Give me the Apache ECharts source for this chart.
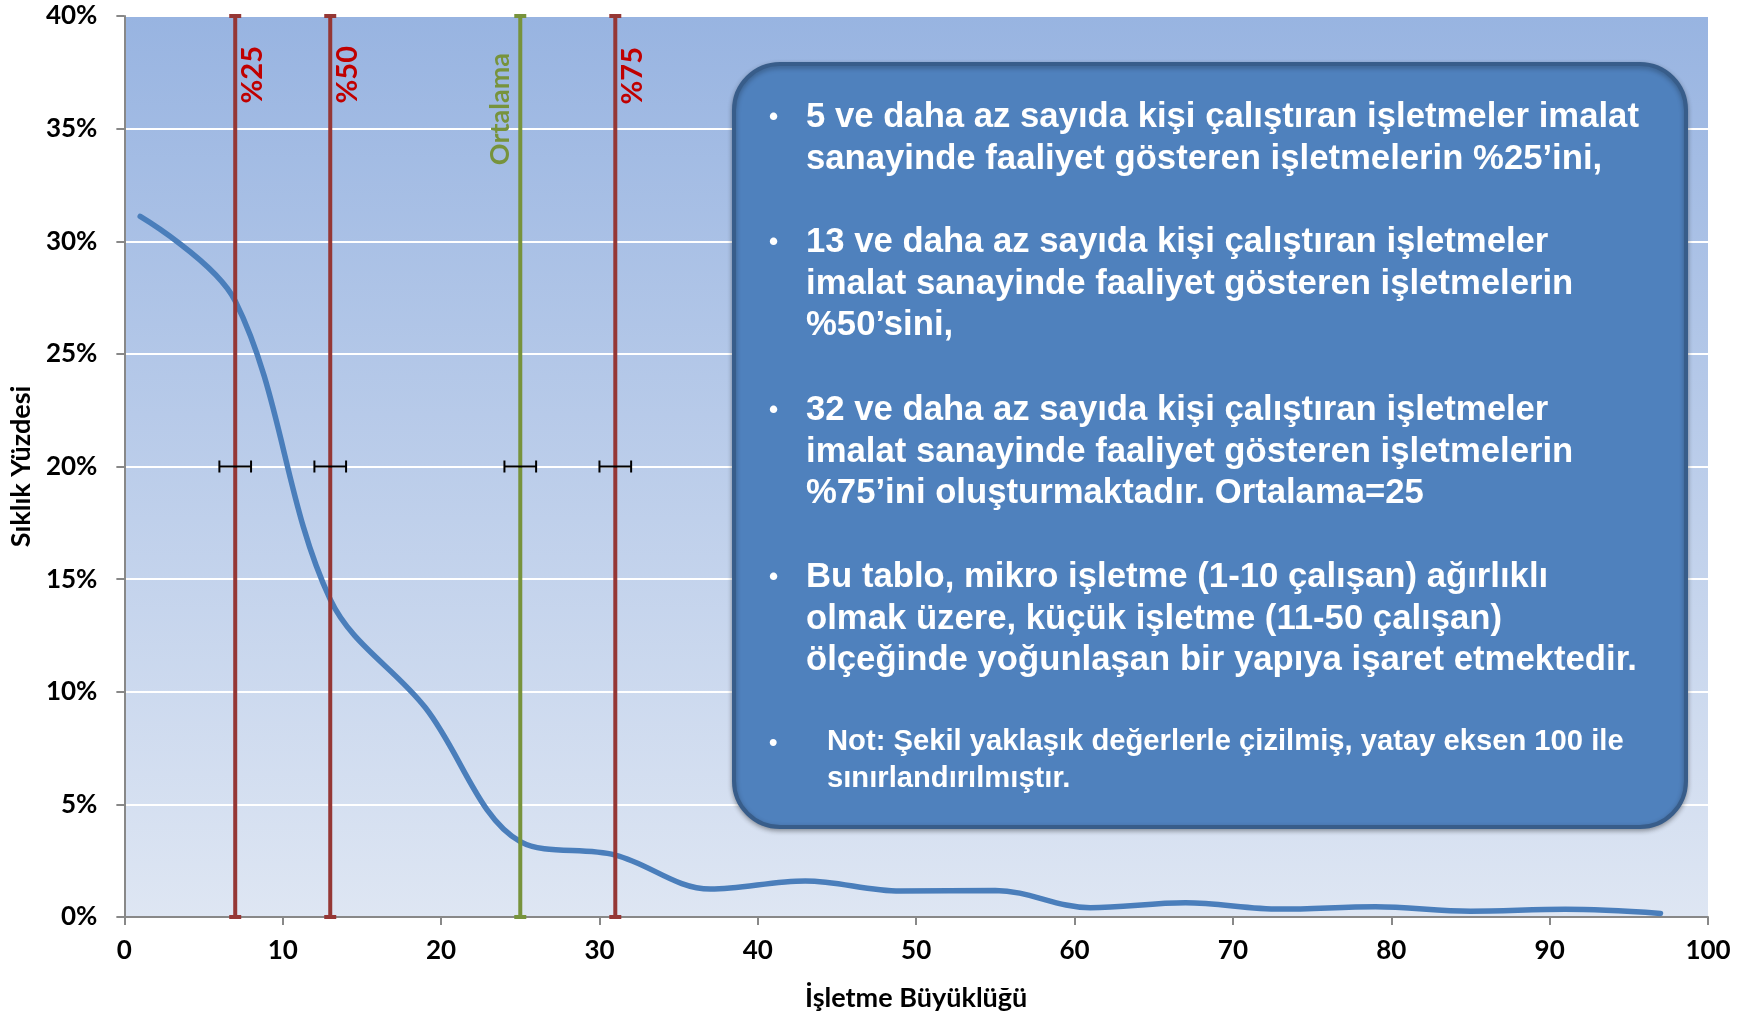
<!DOCTYPE html>
<html>
<head>
<meta charset="utf-8">
<script src="https://cdn.jsdelivr.net/npm/echarts@6/dist/echarts.min.js"></script>
<style>
  html, body { margin: 0; padding: 0; background: #ffffff; }
  #chart { width: 1750px; height: 1017px; }
</style>
</head>
<body>
<div id="chart"></div>
<script>
// işletme büyüklüğü (çalışan sayısı) ve sıklık yüzdesi
var sizes = [1, 7, 13, 19, 25, 31, 37, 43, 49, 55, 61, 67, 73, 79, 85, 91, 97]
var freqs = [31.1, 27.35, 14.1, 9.3, 3.35, 2.75, 1.24, 1.6, 1.15, 1.18, 0.41, 0.63, 0.35, 0.46, 0.26, 0.34, 0.16]

// dikey çizgiler (çeyrekler ve ortalama)
var markX = [7, 13, 25, 31]
var markNames = ['%25', '%50', 'Ortalama', '%75']
var errY = 20
var errHalf = 1

var yTicks = [0, 5, 10, 15, 20, 25, 30, 35, 40]

var notes = [
  ['5 ve daha az sayıda kişi çalıştıran işletmeler imalat', 'sanayinde faaliyet gösteren işletmelerin %25’ini,'],
  ['13 ve daha az sayıda kişi çalıştıran işletmeler', 'imalat sanayinde faaliyet gösteren işletmelerin', '%50’sini,'],
  ['32 ve daha az sayıda kişi çalıştıran işletmeler', 'imalat sanayinde faaliyet gösteren işletmelerin', '%75’ini oluşturmaktadır. Ortalama=25'],
  ['Bu tablo, mikro işletme (1-10 çalışan) ağırlıklı', 'olmak üzere, küçük işletme (11-50 çalışan)', 'ölçeğinde yoğunlaşan bir yapıya işaret etmektedir.']
]
var footNote = ['Not: Şekil yaklaşık değerlerle çizilmiş, yatay eksen 100 ile', 'sınırlandırılmıştır.']

var myChart = echarts.init(document.getElementById('chart'))

var curveData = sizes.map(function (x, i) { return [x, freqs[i]] })

// renk ve konum ayarları
var lineColors = ['#953735', '#953735', '#77933C', '#953735']
var textColors = ['#C00000', '#C00000', '#77933C', '#C00000']
var labelDx = [17, 17, -20, 17]
var labelDy = [30, 30, 37, 31]
var axisFont = 'Lato, "Noto Sans", sans-serif'
var boxFont = '"Liberation Sans", Arial, sans-serif'

// kutu içi metinler
var boxTexts = []
var paraTops = [97, 222, 390, 557]
notes.forEach(function (lines, i) {
  boxTexts.push({
    type: 'text', x: 769, y: paraTops[i] + 21, z: 101,
    style: { text: '•', fill: '#fff', font: 'bold 26px ' + boxFont, textVerticalAlign: 'middle' }
  })
  boxTexts.push({
    type: 'text', x: 806, y: paraTops[i], z: 101,
    style: { text: lines.join('\n'), fill: '#fff', font: 'bold 34.7px ' + boxFont, lineHeight: 41.5, textVerticalAlign: 'top' }
  })
})
boxTexts.push({
  type: 'text', x: 769, y: 743, z: 101,
  style: { text: '•', fill: '#fff', font: 'bold 24px ' + boxFont, textVerticalAlign: 'middle' }
})
boxTexts.push({
  type: 'text', x: 827, y: 724, z: 101,
  style: { text: footNote.join('\n'), fill: '#fff', font: 'bold 29.2px ' + boxFont, lineHeight: 36.5, textVerticalAlign: 'top' }
})

var option = {
  animation: false,
  backgroundColor: '#ffffff',
  grid: {
    left: 123,
    right: 42,
    top: 16,
    bottom: 98,
    show: true,
    borderWidth: 0,
    backgroundColor: {
      type: 'linear', x: 0, y: 0, x2: 0, y2: 1,
      colorStops: [
        { offset: 0, color: '#98B4E1' },
        { offset: 1, color: '#DEE6F3' }
      ]
    }
  },
  xAxis: {
    type: 'value',
    min: 0,
    max: 100,
    interval: 10,
    name: 'İşletme Büyüklüğü',
    nameLocation: 'middle',
    nameGap: 68,
    nameTextStyle: { fontFamily: axisFont, fontWeight: 'bold', fontSize: 27, color: '#000' },
    axisLine: { lineStyle: { color: '#888888', width: 2 } },
    axisTick: { length: 8, lineStyle: { color: '#888888', width: 2 } },
    axisLabel: { margin: 21, fontFamily: axisFont, fontWeight: 'bold', fontSize: 26, color: '#000' },
    splitLine: { show: false }
  },
  yAxis: {
    type: 'value',
    min: yTicks[0],
    max: yTicks[yTicks.length - 1],
    interval: 5,
    name: 'Sıklık Yüzdesi',
    nameLocation: 'middle',
    nameGap: 89,
    nameTextStyle: { fontFamily: axisFont, fontWeight: 'bold', fontSize: 27, color: '#000' },
    axisLine: { show: true, lineStyle: { color: '#888888', width: 2 } },
    axisTick: { show: true, length: 8, lineStyle: { color: '#888888', width: 2 } },
    axisLabel: { margin: 27, fontFamily: axisFont, fontWeight: 'bold', fontSize: 26, color: '#000', formatter: '{value}%' },
    splitLine: { lineStyle: { color: '#ffffff', width: 2 } }
  },
  series: [
    {
      type: 'line',
      data: curveData,
      smooth: 0.35,
      symbol: 'none',
      z: 2,
      lineStyle: { color: '#4A7EBB', width: 5.5, cap: 'round' }
    },
    {
      // dikey çizgiler ve etiketleri
      type: 'custom',
      z: 3,
      clip: false,
      data: markX.map(function (x, i) { return [x, i] }),
      renderItem: function (params, api) {
        var i = api.value(1)
        var top = api.coord([api.value(0), 40])
        var bot = api.coord([api.value(0), 0])
        var c = lineColors[i]
        return {
          type: 'group',
          children: [
            { type: 'line', shape: { x1: top[0], y1: top[1], x2: bot[0], y2: bot[1] }, style: { stroke: c, lineWidth: 4 } },
            { type: 'rect', shape: { x: top[0] - 6, y: top[1] - 2, width: 12, height: 4 }, style: { fill: c } },
            { type: 'rect', shape: { x: bot[0] - 6, y: bot[1] - 2, width: 12, height: 4 }, style: { fill: c } },
            {
              type: 'text',
              x: top[0] + labelDx[i],
              y: top[1] + labelDy[i],
              rotation: Math.PI / 2,
              style: {
                text: markNames[i],
                fill: textColors[i],
                font: 'bold ' + (i === 2 ? 27 : 29) + 'px ' + axisFont,
                textAlign: 'right',
                textVerticalAlign: 'middle'
              }
            }
          ]
        }
      }
    },
    {
      // hata çubukları
      type: 'custom',
      z: 4,
      data: markX.map(function (x) { return [x, errY] }),
      renderItem: function (params, api) {
        var l = api.coord([api.value(0) - errHalf, api.value(1)])
        var r = api.coord([api.value(0) + errHalf, api.value(1)])
        var s = { stroke: '#000', lineWidth: 2 }
        return {
          type: 'group',
          children: [
            { type: 'line', shape: { x1: l[0], y1: l[1], x2: r[0], y2: r[1] }, style: s },
            { type: 'line', shape: { x1: l[0], y1: l[1] - 6, x2: l[0], y2: l[1] + 6 }, style: s },
            { type: 'line', shape: { x1: r[0], y1: r[1] - 6, x2: r[0], y2: r[1] + 6 }, style: s }
          ]
        }
      }
    }
  ],
  graphic: [
    {
      type: 'rect',
      z: 100,
      shape: { x: 734, y: 64, width: 952, height: 763, r: 46 },
      style: {
        fill: '#4F81BD',
        stroke: '#385D8A',
        lineWidth: 4,
        shadowBlur: 5,
        shadowOffsetY: 2,
        shadowColor: 'rgba(0,0,0,0.3)'
      }
    }
  ].concat(boxTexts)
}

myChart.setOption(option)
window.onresize = function () {
  myChart.resize()
}
</script>
</body>
</html>
